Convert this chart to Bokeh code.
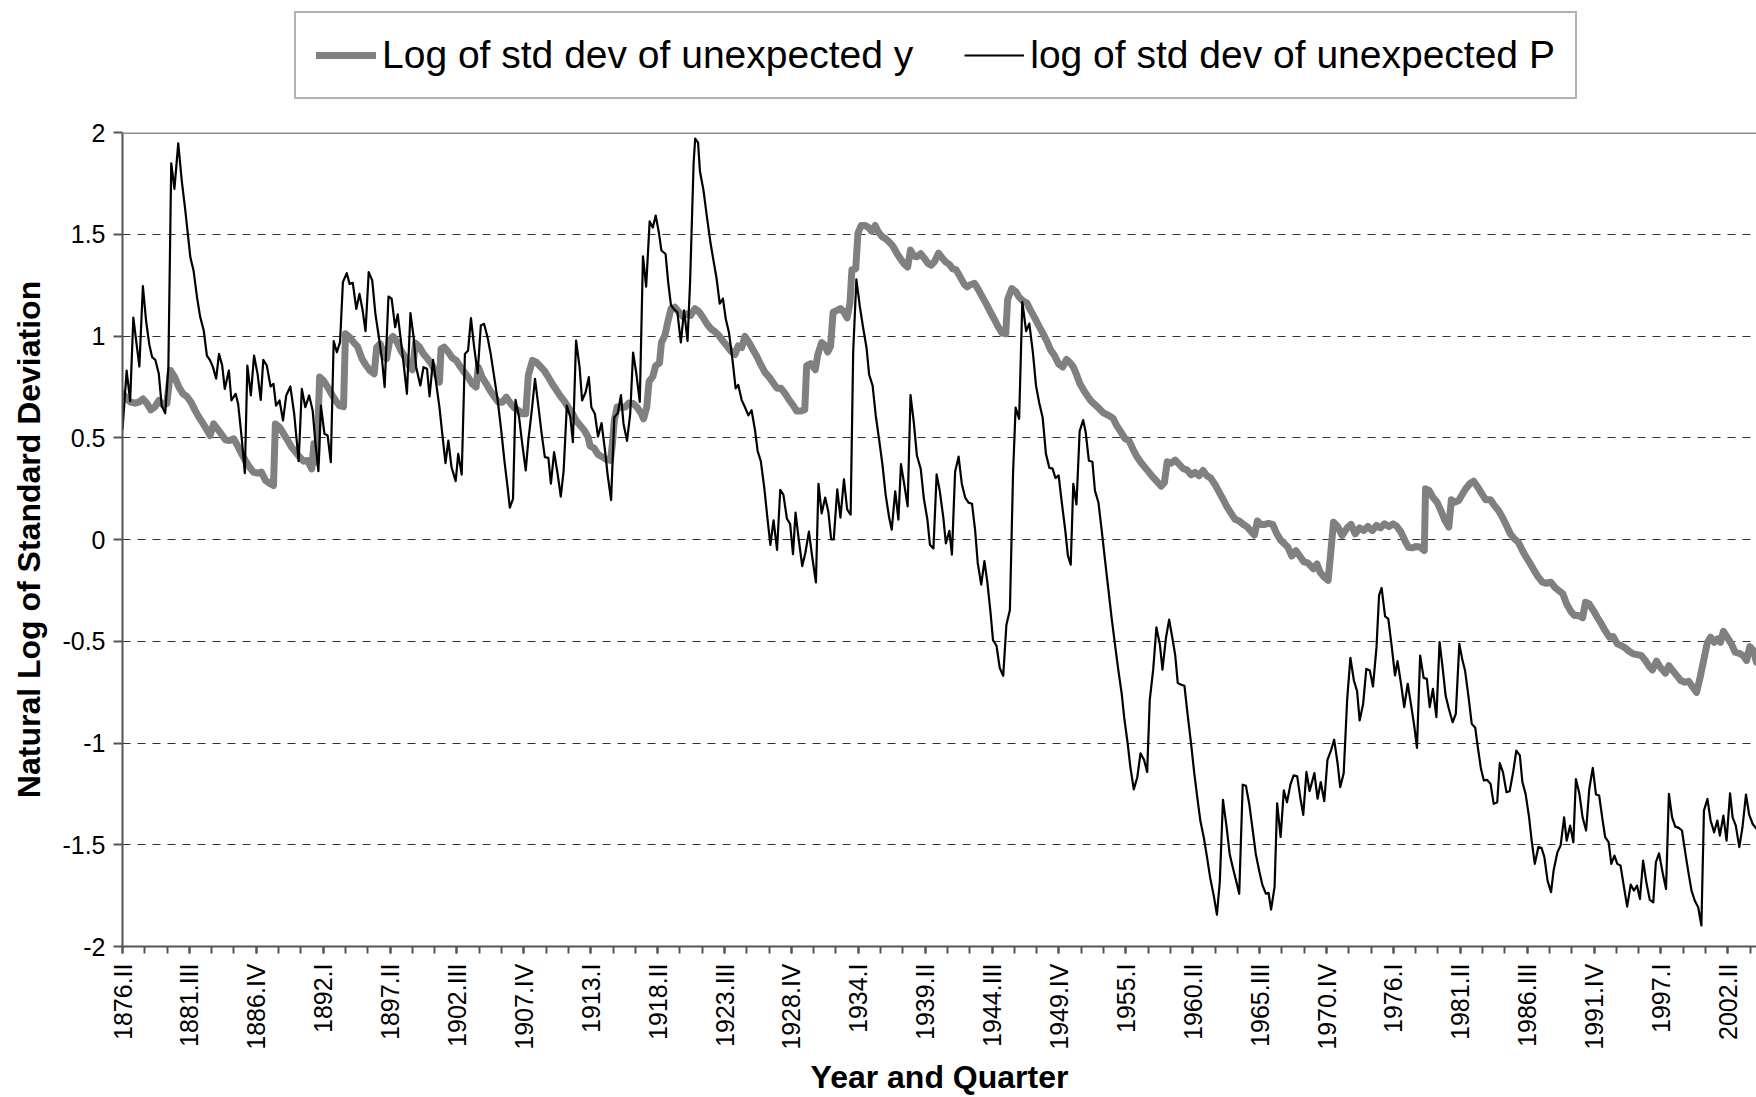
import math
from bokeh.plotting import figure
from bokeh.layouts import column
from bokeh.models import (Range1d, FixedTicker, Legend, LegendItem, Span,
                          NumeralTickFormatter, ColumnDataSource)
from bokeh.embed import file_html
from bokeh.resources import INLINE

# ---------------- data (quarter index from 1876.II = 0) ----------------
tick_quarters = [0, 21, 42, 63, 84, 105, 126, 147, 168, 189, 210, 231, 252,
                 273, 294, 315, 336, 357, 378, 399, 420, 441, 462, 483, 504]
tick_labels = ["1876.II", "1881.III", "1886.IV", "1892.I", "1897.II", "1902.III",
               "1907.IV", "1913.I", "1918.II", "1923.III", "1928.IV", "1934.I",
               "1939.II", "1944.III", "1949.IV", "1955.I", "1960.II", "1965.III",
               "1970.IV", "1976.I", "1981.II", "1986.III", "1991.IV", "1997.I",
               "2002.II"]
minor_quarters = list(range(0, 514, 7))
y_ticks = [-2, -1.5, -1, -0.5, 0, 0.5, 1, 1.5, 2]
grid_ticks = [-1.5, -1, -0.5, 0, 0.5, 1, 1.5]

series_y_name = "Log of std dev of unexpected y"
series_p_name = "log of std dev of unexpected P"

y_q = [0.0, 1.3, 2.6, 3.9, 5.1, 6.4, 7.6, 8.9, 10.1, 11.4, 12.6, 13.9, 15.1, 16.4,
       17.7, 19.0, 20.2, 21.5, 22.7, 24.0, 25.2, 26.5, 27.5, 28.6, 29.8, 31.1, 32.3,
       33.6, 34.9, 36.1, 37.4, 38.6, 39.9, 41.1, 42.4, 43.6, 44.9, 46.1, 47.4, 48.0,
       49.3, 50.6, 51.9, 53.1, 54.4, 55.6, 56.9, 58.1, 59.4, 60.1, 60.9, 61.9, 63.1,
       64.4, 65.6, 66.9, 68.1, 69.4, 70.0, 71.3, 72.5, 73.8, 75.2, 76.5, 77.7, 79.0,
       79.8, 80.9, 81.9, 82.9, 83.9, 84.9, 86.2, 87.4, 88.7, 89.9, 91.0, 92.0, 93.3,
       94.5, 95.8, 97.0, 98.3, 99.5, 100.0, 101.0, 102.3, 103.5, 104.8, 106.0, 107.3,
       108.5, 109.8, 111.0, 111.7, 112.9, 114.2, 115.4, 116.7, 118.0, 119.3, 120.5,
       121.8, 123.0, 124.3, 125.5, 126.6, 127.4, 128.7, 129.9, 131.2, 132.4, 133.7,
       134.9, 136.2, 137.4, 138.7, 139.9, 141.2, 142.4, 143.7, 145.0, 146.2, 146.8,
       148.1, 149.3, 150.7, 151.9, 153.2, 153.8, 154.4, 155.3, 156.5, 157.8, 159.0,
       160.3, 161.5, 162.8, 163.6, 164.6, 165.3, 166.5, 167.4, 168.6, 169.2, 170.3,
       171.3, 172.2, 173.4, 174.7, 175.9, 177.2, 178.4, 179.7, 180.9, 182.2, 183.5,
       184.8, 186.0, 187.3, 188.5, 189.8, 191.0, 192.3, 193.3, 194.4, 195.4, 196.7,
       197.9, 199.2, 200.4, 201.7, 203.0, 204.2, 205.5, 206.7, 208.0, 209.2, 210.5,
       211.7, 213.0, 214.2, 214.8, 216.1, 217.5, 218.3, 219.5, 220.6, 221.4, 222.3,
       223.1, 224.4, 225.4, 226.5, 227.5, 228.4, 229.0, 230.2, 230.9, 231.9, 233.2,
       234.2, 235.2, 236.3, 237.3, 238.6, 239.6, 240.9, 241.9, 243.2, 244.4, 245.5,
       246.5, 247.4, 248.4, 249.4, 250.6, 251.6, 252.9, 253.9, 255.0, 256.2, 257.3,
       258.5, 259.6, 260.6, 261.7, 262.9, 264.2, 265.2, 266.2, 267.5, 268.7, 270.0,
       271.3, 272.5, 273.8, 275.0, 276.1, 277.3, 277.9, 279.2, 280.4, 281.5, 282.7,
       283.9, 285.1, 286.4, 287.6, 288.9, 290.1, 291.4, 292.6, 293.9, 295.2, 296.4,
       297.4, 298.5, 299.5, 300.6, 302.1, 304.0, 305.2, 306.6, 308.0, 309.5, 311.0,
       312.2, 313.5, 314.7, 316.0, 317.3, 318.6, 319.8, 321.1, 322.3, 323.6, 324.8,
       326.1, 327.1, 328.0, 329.2, 330.5, 331.7, 333.0, 334.2, 335.5, 336.7, 338.0,
       339.2, 340.5, 341.7, 343.0, 344.3, 345.5, 346.8, 348.0, 349.3, 350.6, 351.9,
       353.1, 354.4, 355.4, 356.3, 357.3, 358.6, 359.8, 361.1, 362.3, 363.6, 364.8,
       365.9, 367.1, 368.4, 369.6, 370.9, 372.1, 373.9, 375.0, 376.0, 377.3, 378.5,
       379.4, 380.2, 381.5, 382.9, 384.5, 385.7, 387.0, 388.4, 389.7, 391.0, 392.4,
       393.7, 394.9, 396.2, 397.6, 398.9, 400.1, 401.4, 402.6, 403.7, 404.9, 406.2,
       407.5, 408.7, 409.1, 410.2, 411.4, 412.7, 413.9, 415.2, 416.4, 417.2, 418.2,
       419.5, 420.7, 421.7, 423.0, 424.2, 425.5, 426.8, 428.0, 429.5, 430.7, 432.0,
       433.2, 434.5, 435.7, 437.0, 438.2, 439.5, 440.7, 442.0, 443.2, 444.5, 445.8,
       447.0, 448.4, 449.7, 450.9, 452.2, 453.4, 454.7, 455.9, 457.2, 458.4, 459.3,
       460.5, 461.8, 463.0, 464.3, 465.5, 466.8, 468.0, 469.3, 470.5, 471.8, 473.0,
       474.3, 475.5, 476.8, 478.0, 479.3, 480.3, 481.6, 482.8, 484.4, 485.5, 486.7,
       488.0, 489.2, 490.5, 491.7, 493.0, 494.2, 495.3, 496.5, 497.6, 498.6, 499.7,
       500.7, 501.7, 502.6, 503.8, 505.1, 506.3, 507.6, 508.8, 509.9, 510.9, 512.0,
       513.0]
y_val = [0.72, 0.691, 0.675, 0.67, 0.675, 0.691, 0.67, 0.637, 0.65, 0.683, 0.663, 0.667,
         0.83, 0.798, 0.749, 0.716, 0.703, 0.675, 0.637, 0.601, 0.572, 0.539, 0.511,
         0.568, 0.544, 0.516, 0.49, 0.486, 0.495, 0.462, 0.421, 0.388, 0.355, 0.331,
         0.326, 0.331, 0.29, 0.277, 0.265, 0.568, 0.552, 0.519, 0.486, 0.454, 0.429,
         0.405, 0.385, 0.388, 0.347, 0.47, 0.38, 0.798, 0.781, 0.749, 0.716, 0.683,
         0.658, 0.653, 1.011, 0.994, 0.97, 0.948, 0.888, 0.855, 0.83, 0.814, 0.945,
         0.961, 0.912, 0.888, 0.978, 0.998, 0.97, 0.929, 0.896, 0.855, 0.834, 0.965,
         0.945, 0.912, 0.888, 0.863, 0.822, 0.773, 0.937, 0.945, 0.921, 0.893, 0.88,
         0.85, 0.822, 0.798, 0.765, 0.749, 0.847, 0.798, 0.765, 0.732, 0.703, 0.675,
         0.675, 0.699, 0.67, 0.647, 0.634, 0.618, 0.618, 0.806, 0.88, 0.871, 0.85,
         0.83, 0.798, 0.765, 0.735, 0.706, 0.68, 0.65, 0.621, 0.585, 0.56, 0.536,
         0.503, 0.46, 0.448, 0.418, 0.405, 0.393, 0.389, 0.468, 0.585, 0.651, 0.648,
         0.651, 0.671, 0.668, 0.651, 0.621, 0.593, 0.651, 0.776, 0.801, 0.854, 0.868,
         0.968, 1.004, 1.076, 1.134, 1.142, 1.117, 1.097, 1.109, 1.101, 1.134, 1.121,
         1.092, 1.059, 1.034, 1.021, 1.001, 0.976, 0.951, 0.926, 0.909, 0.951, 0.943,
         0.998, 0.968, 0.934, 0.898, 0.859, 0.821, 0.798, 0.771, 0.743, 0.743, 0.718,
         0.688, 0.66, 0.631, 0.631, 0.638, 0.854, 0.864, 0.834, 0.909, 0.968, 0.954,
         0.921, 0.95, 1.117, 1.126, 1.135, 1.117, 1.089, 1.163, 1.326, 1.33, 1.506,
         1.543, 1.543, 1.533, 1.515, 1.543, 1.511, 1.487, 1.478, 1.459, 1.441, 1.404,
         1.376, 1.352, 1.339, 1.422, 1.394, 1.389, 1.404, 1.385, 1.357, 1.348, 1.367,
         1.407, 1.385, 1.363, 1.352, 1.33, 1.326, 1.293, 1.256, 1.241, 1.252, 1.259,
         1.228, 1.191, 1.154, 1.117, 1.08, 1.043, 1.015, 1.011, 1.181, 1.233, 1.219,
         1.191, 1.172, 1.163, 1.126, 1.089, 1.052, 1.015, 0.978, 0.931, 0.904, 0.863,
         0.848, 0.885, 0.87, 0.848, 0.811, 0.765, 0.725, 0.682, 0.664, 0.644, 0.622,
         0.61, 0.596, 0.558, 0.527, 0.497, 0.485, 0.442, 0.404, 0.377, 0.353, 0.33,
         0.305, 0.284, 0.262, 0.279, 0.382, 0.375, 0.39, 0.37, 0.348, 0.342, 0.318,
         0.33, 0.313, 0.339, 0.313, 0.301, 0.27, 0.233, 0.199, 0.159, 0.13, 0.099,
         0.091, 0.074, 0.062, 0.039, 0.022, 0.091, 0.074, 0.074, 0.079, 0.074, 0.031,
         -0.003, -0.021, -0.038, -0.081, -0.055, -0.081, -0.11, -0.115, -0.144, -0.12,
         -0.161, -0.185, -0.201, -0.054, 0.085, 0.064, 0.02, 0.057, 0.074, 0.028, 0.057,
         0.044, 0.064, 0.044, 0.069, 0.057, 0.077, 0.064, 0.077, 0.064, 0.036, -0.005,
         -0.038, -0.041, -0.034, -0.038, -0.054, 0.249, 0.241, 0.208, 0.183, 0.143,
         0.093, 0.061, 0.195, 0.183, 0.192, 0.224, 0.249, 0.274, 0.287, 0.257, 0.224,
         0.195, 0.195, 0.167, 0.143, 0.11, 0.069, 0.028, 0.003, -0.013, -0.054, -0.087,
         -0.12, -0.152, -0.185, -0.21, -0.215, -0.21, -0.235, -0.251, -0.267, -0.317,
         -0.353, -0.374, -0.374, -0.385, -0.308, -0.317, -0.349, -0.382, -0.415, -0.448,
         -0.48, -0.477, -0.513, -0.521, -0.533, -0.549, -0.562, -0.566, -0.57, -0.592,
         -0.624, -0.641, -0.598, -0.628, -0.657, -0.62, -0.644, -0.669, -0.693, -0.701,
         -0.697, -0.726, -0.751, -0.677, -0.587, -0.505, -0.48, -0.505, -0.489, -0.505,
         -0.451, -0.48, -0.513, -0.554, -0.56, -0.57, -0.595, -0.526, -0.546, -0.603]

p_q = [0.0, 1.3, 2.4, 3.4, 5.3, 6.4, 7.4, 8.4, 9.3, 10.3, 11.4, 12.3, 13.4, 14.4, 15.3,
       16.3, 17.5, 18.6, 19.6, 20.4, 21.3, 22.3, 23.4, 24.4, 25.5, 26.5, 27.5, 28.4,
       29.4, 30.3, 31.3, 32.1, 33.4, 34.2, 35.5, 36.3, 37.4, 38.4, 39.2, 40.3, 41.3,
       42.4, 43.4, 44.2, 45.3, 46.5, 47.4, 48.2, 49.3, 50.4, 51.4, 52.7, 53.9, 55.3,
       56.3, 57.4, 58.6, 59.7, 60.5, 61.5, 62.3, 63.4, 64.4, 65.4, 66.3, 67.3, 68.3,
       69.2, 70.4, 71.3, 72.3, 73.4, 74.4, 75.4, 76.3, 77.3, 78.4, 79.4, 80.5, 81.5,
       82.3, 83.5, 84.5, 85.6, 86.4, 87.4, 88.5, 89.3, 90.4, 91.4, 92.2, 93.5, 94.5,
       95.6, 96.4, 97.5, 98.5, 99.5, 100.4, 101.4, 102.3, 103.3, 104.6, 105.4, 106.5,
       107.5, 108.5, 109.4, 110.4, 111.5, 112.5, 113.5, 114.6, 115.6, 116.7, 117.8,
       118.9, 119.9, 120.9, 121.6, 122.6, 123.4, 124.5, 125.5, 126.6, 127.4, 128.5,
       129.5, 130.6, 131.6, 132.6, 133.7, 134.5, 135.5, 136.6, 137.6, 138.5, 139.5,
       140.6, 141.4, 142.4, 143.5, 144.3, 145.4, 146.4, 147.2, 148.3, 149.3, 150.4,
       151.5, 152.3, 153.4, 154.4, 155.5, 156.5, 157.3, 158.4, 159.4, 160.3, 161.3,
       162.4, 163.4, 164.4, 165.5, 166.5, 167.4, 168.4, 169.2, 170.5, 171.3, 172.2,
       173.2, 174.2, 175.3, 176.3, 177.4, 178.2, 179.3, 179.8, 180.7, 181.3, 182.4,
       183.5, 184.6, 185.4, 186.5, 187.5, 188.5, 189.4, 190.4, 191.5, 192.5, 193.3,
       194.4, 195.4, 196.5, 197.5, 198.6, 199.4, 200.4, 201.5, 202.5, 203.4, 204.4,
       205.5, 206.5, 207.5, 208.6, 209.6, 210.5, 211.3, 212.3, 213.4, 214.4, 215.5,
       216.5, 217.7, 218.5, 219.5, 220.6, 221.6, 222.5, 223.3, 224.4, 225.4, 226.5,
       227.5, 228.6, 229.4, 230.4, 231.5, 232.5, 233.6, 234.4, 235.5, 236.5, 237.5,
       238.6, 239.6, 240.7, 241.5, 242.6, 243.6, 244.4, 245.5, 246.5, 247.4, 248.4,
       249.4, 250.6, 251.6, 252.7, 253.5, 254.6, 255.6, 256.6, 257.7, 258.5, 259.6,
       260.4, 261.4, 262.5, 263.5, 264.6, 265.6, 266.7, 267.7, 268.5, 269.6, 270.6,
       271.5, 272.5, 273.3, 274.4, 275.4, 276.5, 277.5, 278.6, 279.6, 280.4, 281.5,
       282.5, 283.7, 284.7, 285.8, 286.8, 287.8, 288.9, 289.9, 291.0, 292.0, 292.9,
       293.9, 294.9, 296.0, 296.8, 297.7, 298.5, 299.5, 300.5, 301.6, 302.4, 303.4,
       304.5, 305.3, 306.4, 307.4, 308.5, 309.5, 310.5, 311.6, 312.6, 313.7, 314.5,
       315.6, 316.4, 317.5, 318.6, 319.6, 320.7, 321.7, 322.5, 323.6, 324.6, 325.7,
       326.5, 327.6, 328.6, 329.6, 330.5, 331.3, 332.4, 333.4, 334.4, 335.5, 336.5,
       337.6, 338.4, 339.5, 340.5, 341.5, 342.6, 343.6, 344.5, 345.5, 346.6, 347.6,
       348.6, 349.7, 350.6, 351.7, 352.7, 353.8, 354.8, 355.8, 356.9, 357.9, 359.0,
       359.8, 360.6, 361.7, 362.5, 363.6, 364.6, 365.6, 366.7, 367.7, 368.8, 369.8,
       370.7, 371.7, 372.7, 374.2, 375.2, 376.2, 377.3, 378.3, 379.4, 380.4, 381.5,
       382.3, 383.4, 384.5, 385.5, 386.6, 387.6, 388.4, 389.5, 390.5, 391.6, 392.6,
       393.7, 394.5, 395.3, 396.4, 397.4, 398.5, 399.5, 400.3, 401.4, 402.4, 403.5,
       404.5, 405.6, 406.4, 407.4, 408.5, 409.5, 410.4, 411.4, 412.5, 413.5, 414.5,
       415.4, 416.4, 417.6, 418.6, 419.7, 420.7, 421.5, 422.6, 423.6, 424.7, 425.5,
       426.5, 427.4, 428.4, 429.5, 430.5, 431.6, 432.4, 433.4, 434.5, 435.5, 436.6,
       437.6, 438.7, 439.5, 440.5, 441.6, 442.4, 443.4, 444.5, 445.5, 446.4, 447.4,
       448.5, 449.3, 450.5, 451.5, 452.6, 453.4, 454.5, 455.5, 456.3, 457.4, 458.4,
       459.5, 460.5, 461.6, 462.6, 463.6, 464.7, 465.5, 466.6, 467.4, 468.4, 469.3,
       470.3, 471.4, 472.4, 473.5, 474.5, 475.5, 476.4, 477.4, 478.5, 479.5, 480.6,
       481.4, 482.4, 483.6, 484.6, 485.5, 486.5, 487.5, 488.6, 489.6, 490.7, 491.7,
       492.6, 493.6, 494.7, 495.7, 496.5, 497.6, 498.6, 499.7, 500.7, 501.5, 502.6,
       503.6, 504.7, 505.5, 506.5, 507.6, 508.6, 509.7, 510.7, 511.8, 513.0]
p_val = [0.54, 0.83, 0.68, 1.09, 0.85, 1.245, 1.076, 0.96, 0.896, 0.883, 0.814, 0.658,
         0.62, 0.847, 1.849, 1.723, 1.947, 1.764, 1.633, 1.518, 1.387, 1.322, 1.19,
         1.093, 1.027, 0.904, 0.88, 0.847, 0.79, 0.912, 0.855, 0.74, 0.83, 0.683,
         0.716, 0.667, 0.503, 0.326, 0.855, 0.708, 0.904, 0.814, 0.686, 0.883, 0.855,
         0.752, 0.765, 0.658, 0.683, 0.585, 0.708, 0.752, 0.618, 0.385, 0.74, 0.65,
         0.708, 0.634, 0.486, 0.336, 0.658, 0.519, 0.511, 0.38, 0.975, 0.92, 0.97,
         1.265, 1.309, 1.256, 1.261, 1.133, 1.207, 1.125, 1.024, 1.314, 1.273, 1.109,
         0.994, 0.88, 0.749, 1.194, 1.183, 1.043, 1.106, 0.978, 0.83, 0.716, 1.112,
         0.994, 0.847, 0.757, 0.847, 0.839, 0.703, 0.883, 0.765, 0.65, 0.519, 0.375,
         0.486, 0.355, 0.287, 0.421, 0.319, 0.912, 0.929, 1.088, 0.945, 0.817, 1.052,
         1.06, 0.994, 0.912, 0.798, 0.683, 0.536, 0.388, 0.257, 0.156, 0.2, 0.686,
         0.601, 0.47, 0.339, 0.486, 0.634, 0.79, 0.65, 0.519, 0.405, 0.401, 0.274,
         0.429, 0.323, 0.211, 0.339, 0.658, 0.601, 0.478, 0.978, 0.847, 0.683, 0.724,
         0.798, 0.65, 0.618, 0.506, 0.572, 0.435, 0.319, 0.194, 0.601, 0.621, 0.71,
         0.568, 0.485, 0.618, 0.918, 0.818, 0.676, 1.392, 1.242, 1.563, 1.533, 1.592,
         1.508, 1.42, 1.403, 1.267, 1.151, 1.131, 1.117, 0.968, 1.126, 0.976, 1.267,
         1.85, 1.97, 1.95, 1.808, 1.716, 1.583, 1.458, 1.384, 1.284, 1.159, 1.184,
         1.084, 1.017, 0.884, 0.743, 0.76, 0.685, 0.651, 0.61, 0.635, 0.535, 0.435,
         0.385, 0.252, 0.102, -0.027, 0.094, -0.051, 0.244, 0.219, 0.102, 0.077,
         -0.072, 0.132, 0.002, -0.131, -0.064, 0.039, -0.081, -0.211, 0.274, 0.128,
         0.206, 0.136, 0.0, 0.0, 0.246, 0.107, 0.296, 0.148, 0.122, 0.922, 1.278,
         1.144, 1.043, 0.941, 0.811, 0.756, 0.607, 0.496, 0.367, 0.219, 0.107, 0.048,
         0.237, 0.098, 0.37, 0.265, 0.163, 0.709, 0.58, 0.413, 0.348, 0.2, 0.098,
         -0.026, -0.044, 0.32, 0.237, 0.107, -0.019, 0.043, -0.074, 0.333, 0.407,
         0.274, 0.204, 0.181, 0.176, 0.043, -0.115, -0.222, -0.106, -0.207, -0.356,
         -0.494, -0.522, -0.63, -0.67, -0.42, -0.346, 0.33, 0.648, 0.593, 1.167, 1.024,
         1.061, 0.922, 0.756, 0.672, 0.598, 0.422, 0.352, 0.348, 0.302, 0.315, 0.181,
         0.043, -0.078, -0.124, 0.274, 0.172, 0.531, 0.587, 0.527, 0.387, 0.382, 0.24,
         0.182, 0.048, -0.106, -0.243, -0.38, -0.517, -0.637, -0.757, -0.877, -1.005,
         -1.116, -1.228, -1.168, -1.051, -1.082, -1.142, -0.791, -0.637, -0.432, -0.517,
         -0.64, -0.483, -0.394, -0.483, -0.568, -0.705, -0.714, -0.719, -0.86, -1.005,
         -1.151, -1.288, -1.382, -1.467, -1.562, -1.664, -1.75, -1.844, -1.682, -1.279,
         -1.408, -1.545, -1.613, -1.682, -1.741, -1.205, -1.21, -1.305, -1.425, -1.545,
         -1.63, -1.699, -1.741, -1.736, -1.818, -1.707, -1.296, -1.462, -1.233, -1.291,
         -1.202, -1.159, -1.164, -1.271, -1.353, -1.142, -1.236, -1.148, -1.274, -1.192,
         -1.286, -1.083, -1.037, -0.984, -1.102, -1.217, -1.148, -0.783, -0.581, -0.693,
         -0.745, -0.889, -0.808, -0.636, -0.644, -0.722, -0.529, -0.275, -0.238, -0.378,
         -0.39, -0.529, -0.668, -0.598, -0.709, -0.824, -0.709, -0.808, -0.922, -1.024,
         -0.57, -0.68, -0.685, -0.824, -0.734, -0.873, -0.504, -0.636, -0.767, -0.832,
         -0.898, -0.857, -0.513, -0.595, -0.644, -0.775, -0.906, -0.925, -1.02, -1.127,
         -1.184, -1.181, -1.201, -1.299, -1.291, -1.099, -1.143, -1.242, -1.237, -1.143,
         -1.037, -1.061, -1.192, -1.25, -1.364, -1.479, -1.594, -1.512, -1.515, -1.561,
         -1.676, -1.733, -1.627, -1.537, -1.504, -1.365, -1.48, -1.406, -1.488, -1.177,
         -1.25, -1.365, -1.43, -1.226, -1.122, -1.253, -1.258, -1.381, -1.463, -1.488,
         -1.594, -1.553, -1.594, -1.602, -1.709, -1.804, -1.696, -1.725, -1.701, -1.766,
         -1.578, -1.692, -1.771, -1.783, -1.586, -1.542, -1.643, -1.717, -1.25, -1.365,
         -1.411, -1.417, -1.43, -1.545, -1.643, -1.725, -1.774, -1.807, -1.897, -1.332,
         -1.275, -1.381, -1.439, -1.381, -1.455, -1.357, -1.48, -1.247, -1.365, -1.406,
         -1.512, -1.414, -1.253, -1.352, -1.398, -1.422]

# ---------------- styles ----------------
FONT = "Liberation Sans"
AXIS_COLOR = "#555555"
GRAY = "#808080"
LEG_H = 120

# ---------------- legend strip (separate figure above the chart) ----------------
leg = figure(width=1756, height=LEG_H, output_backend="svg", toolbar_location=None,
             x_range=Range1d(0, 1), y_range=Range1d(0, 1),
             x_axis_location=None, y_axis_location=None, min_border=0)
leg.outline_line_color = None
leg.grid.visible = False
# legend-only renderers: their data lie outside this strip's ranges, so only the
# legend swatches are visible
lr_y = leg.line(x=[5, 6], y=[5, 6], line_color=GRAY, line_width=7, line_cap="round")
lr_p = leg.line(x=[5, 6], y=[5, 6], line_color="black", line_width=2.2)
legend = Legend(items=[LegendItem(label=series_y_name, renderers=[lr_y]),
                       LegendItem(label=series_p_name, renderers=[lr_p])],
                orientation="horizontal", location=(172, LEG_H - 99))
legend.label_text_font = FONT
legend.label_text_font_size = "39px"
legend.label_text_color = "black"
legend.glyph_width = 60
legend.glyph_height = 40
legend.label_height = 40
legend.label_standoff = 6
legend.spacing = 51
legend.padding = 20
legend.margin = 0
legend.border_line_color = "#666666"
legend.border_line_width = 2
legend.background_fill_color = "white"
legend.background_fill_alpha = 1.0
leg.add_layout(legend)

# ---------------- main chart ----------------
p = figure(width=1756, height=1097 - LEG_H, output_backend="svg", toolbar_location=None,
           x_range=Range1d(0, 513.0), y_range=Range1d(-2, 2),
           min_border_left=122, min_border_top=132 - LEG_H, min_border_right=0,
           min_border_bottom=0)
p.outline_line_color = None
p.background_fill_color = "white"
p.border_fill_color = "white"

src_y = ColumnDataSource(dict(q=y_q, v=y_val))
src_p = ColumnDataSource(dict(q=p_q, v=p_val))
p.line("q", "v", source=src_y, line_color=GRAY, line_width=7,
       line_join="round", line_cap="round")
p.line("q", "v", source=src_p, line_color="#000000", line_width=2.2,
       line_join="round")

# top border of plot area
p.add_layout(Span(location=2, dimension="width", line_color="#8c8c8c", line_width=3))

# y axis
p.yaxis.ticker = FixedTicker(ticks=y_ticks)
p.yaxis.formatter = NumeralTickFormatter(format="0.[0]")
p.yaxis.axis_label = "Natural Log of Standard Deviation"
p.yaxis.major_tick_out = 9
p.yaxis.major_tick_in = 0
p.yaxis.minor_tick_out = 0
p.yaxis.major_label_standoff = 8

# x axis
p.xaxis.ticker = FixedTicker(ticks=tick_quarters, minor_ticks=minor_quarters)
p.xaxis.major_label_overrides = {q: lab for q, lab in zip(tick_quarters, tick_labels)}
p.xaxis.major_label_orientation = math.pi / 2
p.xaxis.axis_label = "Year and Quarter"
p.xaxis.major_tick_out = 7
p.xaxis.major_tick_in = 0
p.xaxis.minor_tick_out = 7
p.xaxis.minor_tick_in = 0
p.xaxis.major_label_standoff = 10
p.xaxis.axis_label_standoff = 6

for ax in (p.xaxis, p.yaxis):
    ax.axis_line_color = AXIS_COLOR
    ax.axis_line_width = 2
    ax.major_tick_line_color = AXIS_COLOR
    ax.major_tick_line_width = 2
    ax.minor_tick_line_color = AXIS_COLOR
    ax.minor_tick_line_width = 2
    ax.major_label_text_font = FONT
    ax.major_label_text_font_size = "25px"
    ax.major_label_text_color = "black"
    ax.axis_label_text_font = FONT
    ax.axis_label_text_font_size = "32px"
    ax.axis_label_text_font_style = "bold"
    ax.axis_label_text_color = "black"
p.yaxis.axis_label_standoff = 12

# grid
p.xgrid.visible = False
p.ygrid.ticker = FixedTicker(ticks=grid_ticks)
p.ygrid.grid_line_color = "#333333"
p.ygrid.grid_line_width = 1
p.ygrid.grid_line_dash = "8 7"

layout = column(leg, p, spacing=0)
open("out.html", "w").write(file_html(layout, INLINE))
